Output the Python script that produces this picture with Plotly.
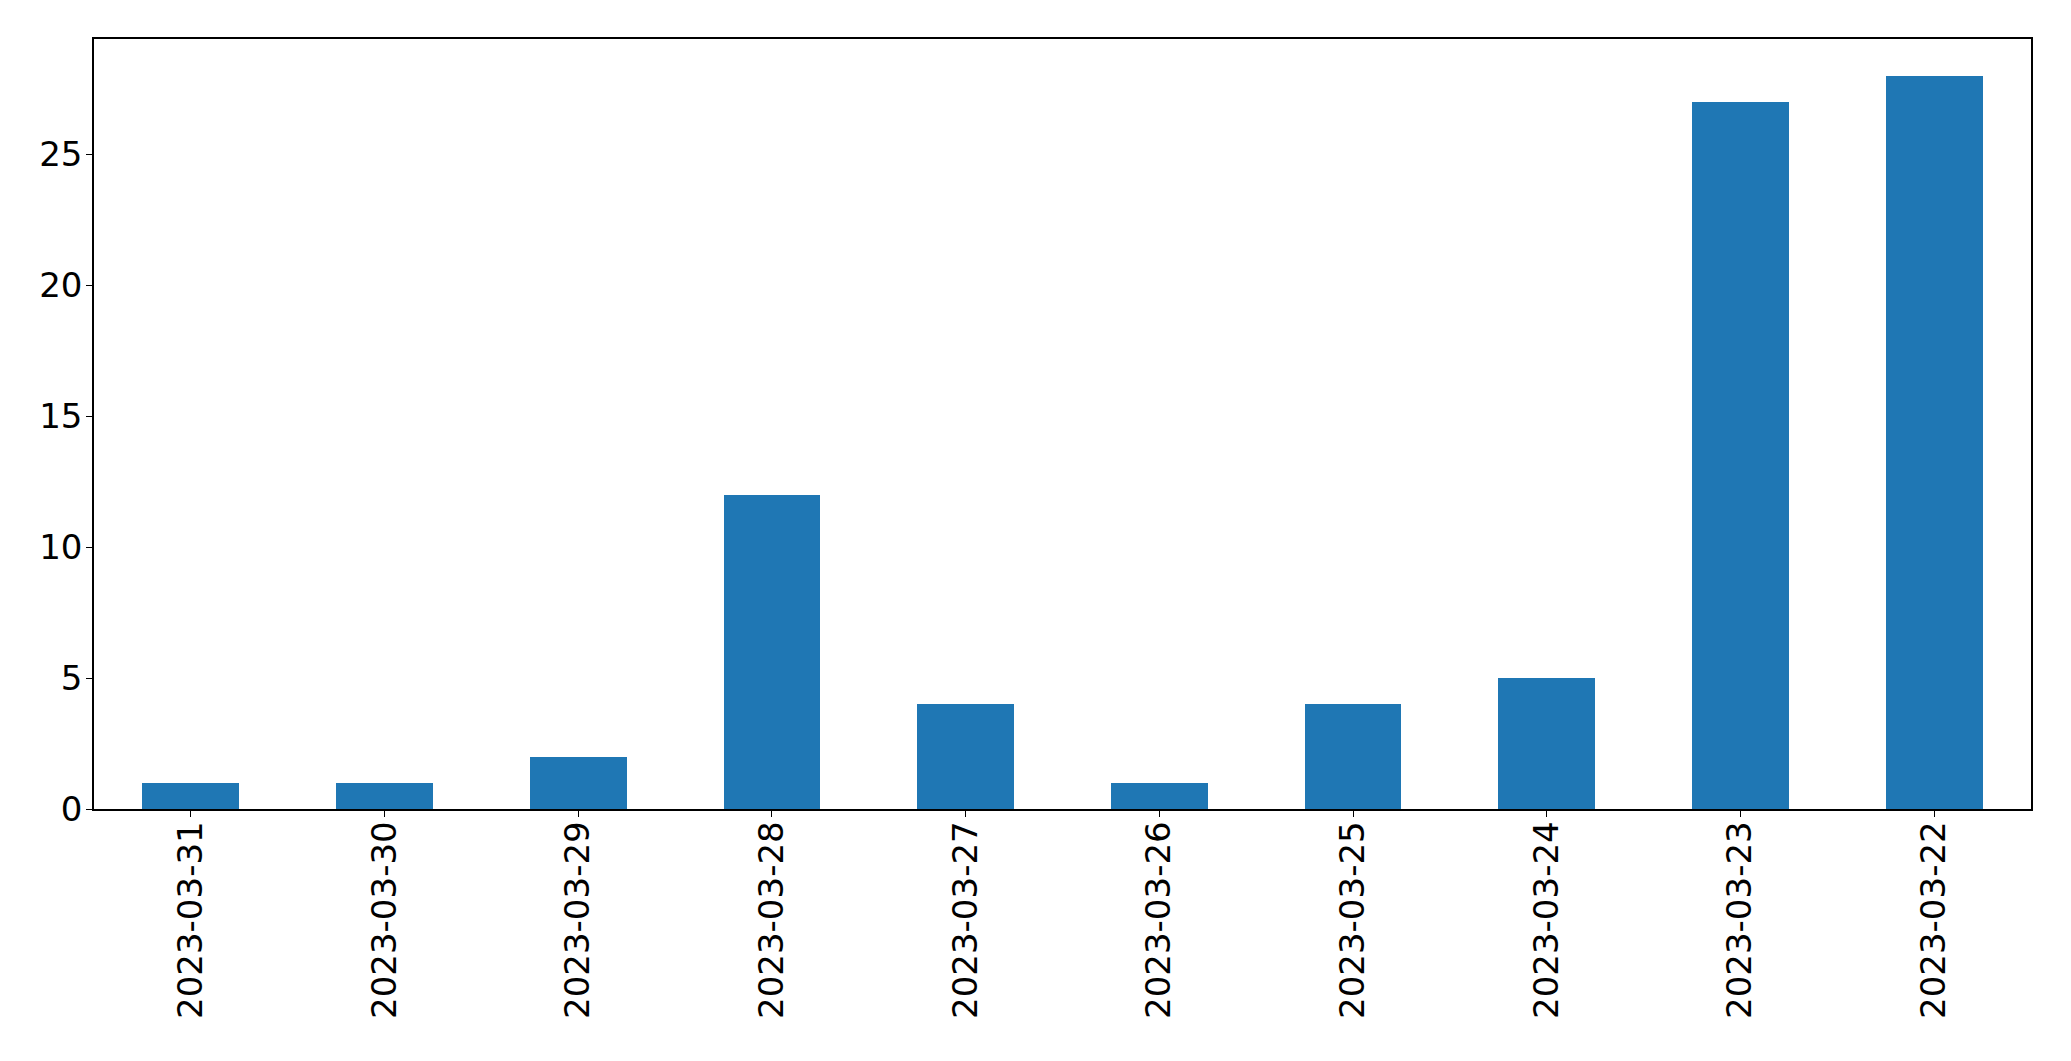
import plotly.graph_objects as go

dates = ["2023-03-31", "2023-03-30", "2023-03-29", "2023-03-28", "2023-03-27",
         "2023-03-26", "2023-03-25", "2023-03-24", "2023-03-23", "2023-03-22"]
counts = [1, 1, 2, 12, 4, 1, 4, 5, 27, 28]
y_ticks = [0, 5, 10, 15, 20, 25]

fig = go.Figure(go.Bar(x=dates, y=counts, width=0.5, marker=dict(color="#1f77b4", line=dict(width=0))))

fig.update_layout(
    width=2055, height=1045,
    margin=dict(l=86, r=32, t=31, b=244),
    paper_bgcolor="white", plot_bgcolor="white",
    font=dict(family="DejaVu Sans", size=34, color="black"),
    showlegend=False, bargap=0,
)
fig.update_xaxes(type="category", range=[-0.5, 9.5], tickangle=-90,
                 showline=True, linecolor="black", linewidth=1.5, mirror=True,
                 ticks="outside", ticklen=6, tickcolor="black", showgrid=False,
                 ticklabelstandoff=-9)
fig.update_yaxes(range=[0, 29.4], tickvals=y_ticks,
                 showline=True, linecolor="black", linewidth=1.5, mirror=True,
                 ticks="outside", ticklen=6, tickcolor="black", showgrid=False, zeroline=False,
                 ticklabelstandoff=-3)

fig.write_html("out.html")
